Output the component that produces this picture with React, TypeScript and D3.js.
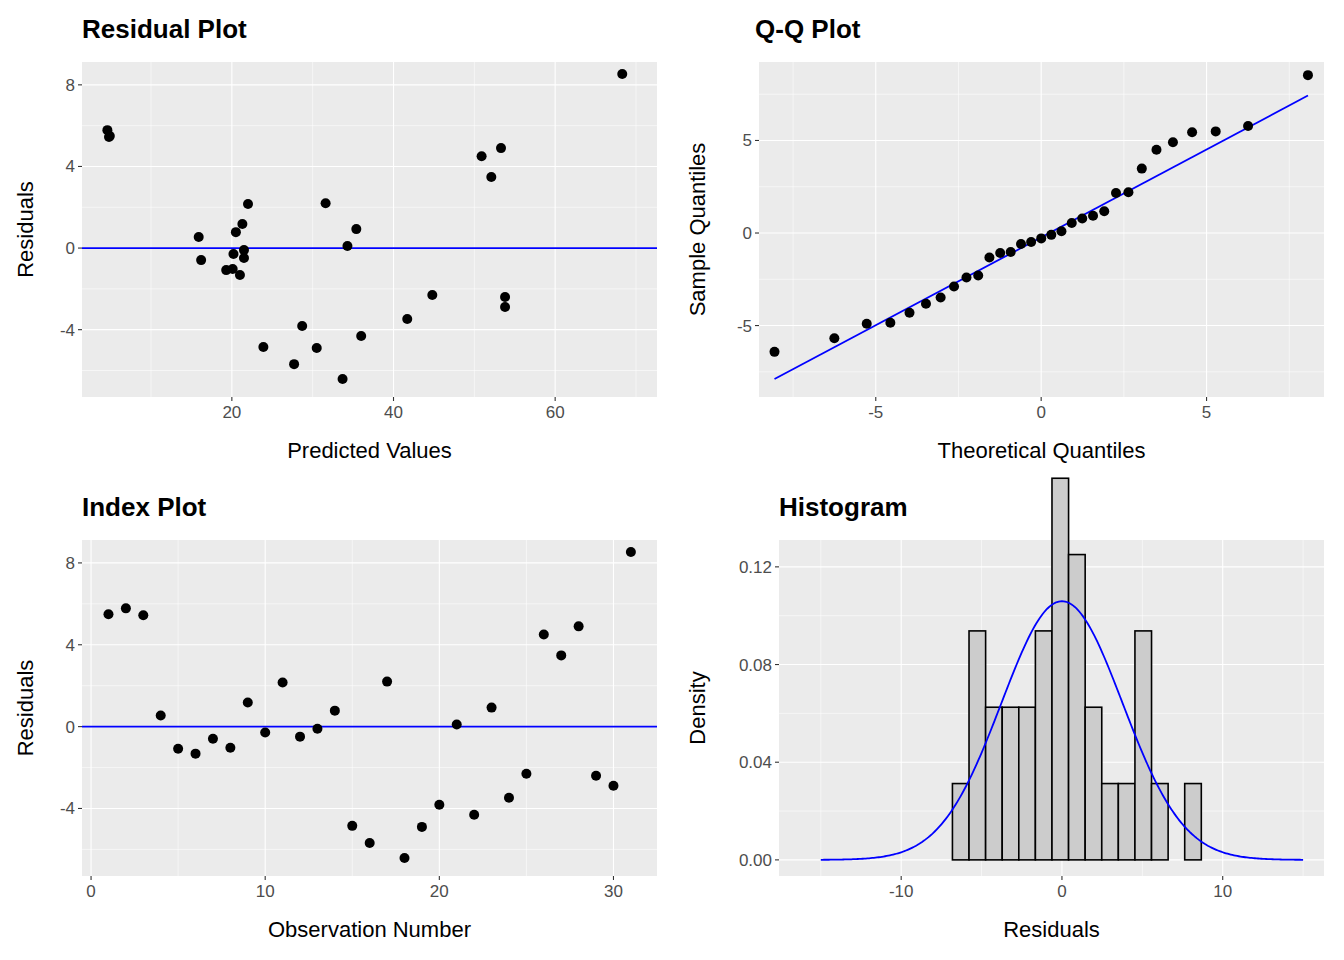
import * as d3 from "d3";

// residuals by observation number
const residuals = [
  5.49, 5.78, 5.44, 0.54, -1.08, -1.32, -0.59, -1.03, 1.18, -0.29, 2.16, -0.49, -0.1, 0.78, -4.85,
  -5.69, 2.2, -6.42, -4.9, -3.82, 0.1, -4.31, 0.93, -3.48, -2.3, 4.5, 3.48, 4.9, -2.4, -2.89, 8.53,
];
// predicted values per observation
const predicted = [
  4.9, 4.6, 4.8, 15.9, 19.3, 21.0, 16.2, 20.1, 21.3, 20.2, 22.0, 21.5, 21.5, 20.5, 23.9, 27.7,
  31.6, 33.7, 30.5, 28.7, 34.3, 36.0, 35.4, 41.7, 44.8, 50.9, 52.1, 53.3, 53.8, 53.8, 68.3,
];
const binStart = -16.1;
const binWidth = 1.032;
const binCount = 24;

const FONT = "'Liberation Sans', Arial, Helvetica, sans-serif";
const n = residuals.length;
const mean = d3.mean(residuals)!;
const sd = d3.deviation(residuals)!;

// Acklam inverse normal
function qnorm(p: number): number {
  const a = [-39.69683028665376, 220.9460984245205, -275.9285104469687, 138.357751867269, -30.66479806614716, 2.506628277459239];
  const b = [-54.47609879822406, 161.5858368580409, -155.6989798598866, 66.80131188771972, -13.28068155288572];
  const c = [-0.007784894002430293, -0.3223964580411365, -2.400758277161838, -2.549732539343734, 4.374664141464968, 2.938163982698783];
  const d = [0.007784695709041462, 0.3224671290700398, 2.445134137142996, 3.754408661907416];
  const pl = 0.02425;
  if (p < pl) {
    const q = Math.sqrt(-2 * Math.log(p));
    return (((((c[0] * q + c[1]) * q + c[2]) * q + c[3]) * q + c[4]) * q + c[5]) / ((((d[0] * q + d[1]) * q + d[2]) * q + d[3]) * q + 1);
  }
  if (p > 1 - pl) return -qnorm(1 - p);
  const q = p - 0.5;
  const r = q * q;
  return ((((((a[0] * r + a[1]) * r + a[2]) * r + a[3]) * r + a[4]) * r + a[5]) * q) / (((((b[0] * r + b[1]) * r + b[2]) * r + b[3]) * r + b[4]) * r + 1);
}

const sorted = [...residuals].sort((x, y) => x - y);
const theo = sorted.map((_, i) => mean + sd * qnorm((i + 1 - 0.5) / n));
const q1 = d3.quantile(sorted, 0.25)!;
const q3 = d3.quantile(sorted, 0.75)!;
const t1 = mean + sd * qnorm(0.25);
const t3 = mean + sd * qnorm(0.75);
const qqSlope = (q3 - q1) / (t3 - t1);
const qqInt = q1 - qqSlope * t1;

const thresholds = d3.range(binCount + 1).map((i) => binStart + i * binWidth);
const bins = d3.bin().domain([thresholds[0], thresholds[binCount]]).thresholds(thresholds.slice(1, -1))(residuals);
const normPdf = (x: number) => Math.exp(-0.5 * ((x - mean) / sd) ** 2) / (sd * Math.sqrt(2 * Math.PI));

type PanelProps = {
  x0: number; x1: number; y0: number; y1: number;
  xd: [number, number]; yd: [number, number];
  xb: number[]; xm: number[]; yb: number[]; ym: number[];
  yfmt?: (v: number) => string;
  title: string; titleX: number; xlab: string; ylab: string; ylabX: number;
  children: (x: d3.ScaleLinear<number, number>, y: d3.ScaleLinear<number, number>) => any;
};

function Panel(p: PanelProps) {
  const x = d3.scaleLinear().domain(p.xd).range([p.x0, p.x1]);
  const y = d3.scaleLinear().domain(p.yd).range([p.y1, p.y0]);
  const fmt = p.yfmt ?? ((v: number) => String(v));
  return (
    <g fontFamily={FONT}>
      <rect x={p.x0} y={p.y0} width={p.x1 - p.x0} height={p.y1 - p.y0} fill="#EBEBEB" />
      {p.xm.map((v) => <line key={"xm" + v} x1={x(v)} x2={x(v)} y1={p.y0} y2={p.y1} stroke="#fff" strokeWidth={0.55} />)}
      {p.ym.map((v) => <line key={"ym" + v} y1={y(v)} y2={y(v)} x1={p.x0} x2={p.x1} stroke="#fff" strokeWidth={0.55} />)}
      {p.xb.map((v) => <line key={"xb" + v} x1={x(v)} x2={x(v)} y1={p.y0} y2={p.y1} stroke="#fff" strokeWidth={1.1} />)}
      {p.yb.map((v) => <line key={"yb" + v} y1={y(v)} y2={y(v)} x1={p.x0} x2={p.x1} stroke="#fff" strokeWidth={1.1} />)}
      {p.children(x, y)}
      {p.xb.map((v) => (
        <g key={"xt" + v}>
          <line x1={x(v)} x2={x(v)} y1={p.y1} y2={p.y1 + 4} stroke="#333" strokeWidth={1.1} />
          <text x={x(v)} y={p.y1 + 21} textAnchor="middle" fontSize={17} fill="#4D4D4D">{v < 0 ? "-" + Math.abs(v) : v}</text>
        </g>
      ))}
      {p.yb.map((v) => (
        <g key={"yt" + v}>
          <line x1={p.x0 - 4} x2={p.x0} y1={y(v)} y2={y(v)} stroke="#333" strokeWidth={1.1} />
          <text x={p.x0 - 7} y={y(v) + 6} textAnchor="end" fontSize={17} fill="#4D4D4D">{fmt(v)}</text>
        </g>
      ))}
      <text x={(p.x0 + p.x1) / 2} y={p.y1 + 61} textAnchor="middle" fontSize={22} fill="#000">{p.xlab}</text>
      <text transform={`translate(${p.ylabX},${(p.y0 + p.y1) / 2}) rotate(-90)`} textAnchor="middle" fontSize={22} fill="#000">{p.ylab}</text>
      <text x={p.titleX} y={p.y0 - 24} fontSize={26} fontWeight="bold" fill="#000">{p.title}</text>
    </g>
  );
}

export default function App() {
  const dots = (xs: number[], ys: number[], x: any, y: any) =>
    xs.map((v, i) => <circle key={i} cx={x(v)} cy={y(ys[i])} r={5} fill="#000" />);
  const curveX = d3.range(-15, 15.001, 0.1);
  return (
    <svg width={1344} height={960} style={{ display: "block", margin: -8 }}>
      <rect width={1344} height={960} fill="#fff" />
      <Panel x0={82} x1={657} y0={62} y1={397} xd={[1.46, 72.6]} yd={[-7.3, 9.12]}
        xb={[20, 40, 60]} xm={[10, 30, 50, 70]} yb={[-4, 0, 4, 8]} ym={[-6, -2, 2, 6]}
        title="Residual Plot" titleX={82} xlab="Predicted Values" ylab="Residuals" ylabX={33}>
        {(x, y) => (
          <g>
            <line x1={82} x2={657} y1={y(0)} y2={y(0)} stroke="#0000FF" strokeWidth={1.8} />
            {dots(predicted, residuals, x, y)}
          </g>
        )}
      </Panel>
      <Panel x0={759} x1={1324} y0={62} y1={397} xd={[-8.53, 8.55]} yd={[-8.86, 9.24]}
        xb={[-5, 0, 5]} xm={[-7.5, -2.5, 2.5, 7.5]} yb={[-5, 0, 5]} ym={[-7.5, -2.5, 2.5, 7.5]}
        title="Q-Q Plot" titleX={755} xlab="Theoretical Quantiles" ylab="Sample Quantiles" ylabX={705}>
        {(x, y) => (
          <g>
            <line x1={x(theo[0])} x2={x(theo[n - 1])} y1={y(qqInt + qqSlope * theo[0])} y2={y(qqInt + qqSlope * theo[n - 1])} stroke="#0000FF" strokeWidth={1.8} />
            {dots(theo, sorted, x, y)}
          </g>
        )}
      </Panel>
      <Panel x0={82} x1={657} y0={540} y1={876} xd={[-0.52, 32.5]} yd={[-7.3, 9.12]}
        xb={[0, 10, 20, 30]} xm={[5, 15, 25]} yb={[-4, 0, 4, 8]} ym={[-6, -2, 2, 6]}
        title="Index Plot" titleX={82} xlab="Observation Number" ylab="Residuals" ylabX={33}>
        {(x, y) => (
          <g>
            <line x1={82} x2={657} y1={y(0)} y2={y(0)} stroke="#0000FF" strokeWidth={1.8} />
            {dots(residuals.map((_, i) => i + 1), residuals, x, y)}
          </g>
        )}
      </Panel>
      <Panel x0={779} x1={1324} y0={540} y1={876} xd={[-17.6, 16.3]} yd={[-0.0066, 0.131]}
        xb={[-10, 0, 10]} xm={[-15, -5, 5, 15]} yb={[0, 0.04, 0.08, 0.12]} ym={[0.02, 0.06, 0.1]}
        yfmt={(v) => v.toFixed(2)}
        title="Histogram" titleX={779} xlab="Residuals" ylab="Density" ylabX={705}>
        {(x, y) => (
          <g>
            {bins.map((b, i) => (
              <rect key={i} x={x(b.x0!)} y={y(b.length / (n * binWidth))} width={x(b.x1!) - x(b.x0!)}
                height={y(0) - y(b.length / (n * binWidth))} fill="#CCCCCC" stroke="#000" strokeWidth={1.6} />
            ))}
            <path d={d3.line<number>().x((v) => x(v)).y((v) => y(normPdf(v)))(curveX)!} fill="none" stroke="#0000FF" strokeWidth={1.8} />
          </g>
        )}
      </Panel>
    </svg>
  );
}
